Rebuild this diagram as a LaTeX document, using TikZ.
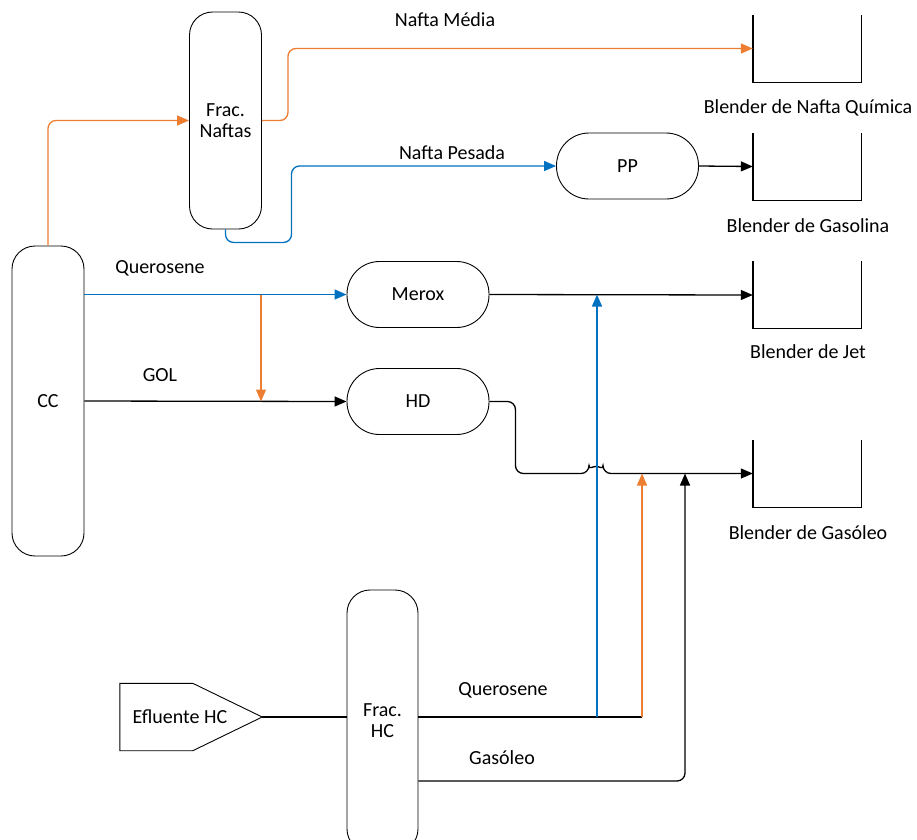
\documentclass[tikz,border=0pt]{standalone}
\usepackage{fontspec}
\setmainfont{Carlito}
\usetikzlibrary{arrows.meta}
\definecolor{flowor}{HTML}{ED7D31}
\definecolor{flowbl}{HTML}{0070C0}
\begin{document}
\begin{tikzpicture}[x=1pt,y=-1pt,
  font=\fontsize{20}{21}\selectfont,
  column/.style={draw, line width=0.9pt, rounded corners=23pt, minimum width=72pt,
    inner sep=0pt, align=center},
  unit/.style={draw, line width=0.9pt, rounded corners=32.5pt, minimum width=142pt,
    minimum height=66pt, inner sep=0pt},
  tank/.style={minimum width=108pt, minimum height=67pt, inner sep=0pt},
  tankline/.style={line width=1.4pt},
  pipe/.style={line width=1.3pt, rounded corners=8pt},
  flow/.style={pipe, -{Triangle[length=12pt,width=10pt]}},
  tag/.style={inner sep=0pt}
]
\useasboundingbox (0,0) rectangle (917,839);
\clip (0,0) rectangle (917,839);

% process units
\node[column, minimum height=217pt] (fn) at (225.5,120.5) {Frac.\\Naftas};
\node[column, minimum height=310pt] (cc) at (48,401) {CC};
\node[column, minimum height=262pt, minimum width=71pt] (fhc) at (382.5,721) {Frac.\\HC};
\node[unit] (pp) at (627.5,166) {PP};
\node[unit] (mx) at (418,294.5) {Merox};
\node[unit] (hd) at (418,401.5) {HD};

% feed
\node[tag, minimum width=142pt, minimum height=67pt] (ef) at (191,717) {};
\draw[line width=0.9pt] (ef.north west) -- ([xshift=73pt]ef.north west) -- (ef.east)
  -- ([xshift=73pt]ef.south west) -- (ef.south west) -- cycle;
\node[tag] (eft) at (180,717) {Efluente HC};

% blenders
\node[tank] (bq) at (807,48.5) {};
\node[tank] (bg) at (807,166.5) {};
\node[tank] (bj) at (807,295) {};
\node[tank] (bgo) at (807,473.5) {};
\foreach \b in {bq,bg,bj,bgo}
  \draw[tankline] (\b.north west) |- (\b.south east) -- (\b.north east);
\node[tag] (lbq) at (808,108) {Blender de Nafta Química};
\node[tag] (lbg) at (808,226) {Blender de Gasolina};
\node[tag] (lbj) at (808,352) {Blender de Jet};
\node[tag] (lbgo) at (808,533) {Blender de Gasóleo};

% stream labels
\node[tag] (lnm) at (445,20) {Nafta Média};
\node[tag] (lnp) at (452,153) {Nafta Pesada};
\node[tag] (lq1) at (160,268) {Querosene};
\node[tag] (lgol) at (160,375) {GOL};
\node[tag] (lq2) at (503,690) {Querosene};
\node[tag] (lgs) at (502,758) {Gasóleo};

% naphtha streams
\draw[flow, flowor] (cc.north) |- (fn.west);
\draw[flow, flowor] (fn.east) -- ++(26,0) |- (bq.west);
\draw[flow, flowbl] (fn.south) -- ++(0,13) -- ++(66,0) |- (pp.west);
\draw[flow] (pp.east) -- (bg.west);

% kerosene and gas oil from CC
\coordinate (kb) at (261,294.5);
\draw[flow, flowbl] (cc.east |- mx.west) -- (mx.west);
\draw[flow] (cc.east) -- (hd.west);
\draw[flow, flowor] (kb) -- (kb |- hd.west);
\draw[flow] (mx.east) -- (bj.west);

% HD product to gas oil blender, jumping the kerosene riser
\coordinate (hj) at (589,473.5);
\draw[flow] (hd.east) -- ++(26,0) |- (hj) arc[start angle=180, end angle=0, radius=7pt]
  -- (bgo.west);

% hydrocracker fractionation
\coordinate (qj) at (597,717);
\coordinate (qo) at (642,717);
\coordinate (gc) at (685,781);
\draw[pipe] (ef.east) -- (fhc.west |- ef.east);
\draw[pipe] (fhc.east |- qj) -- (qo);
\draw[flow, flowbl] (qj) -- (qj |- mx.east);
\draw[flow, flowor] (qo) -- (qo |- bgo.west);
\draw[flow] (fhc.east |- gc) -- (gc) -- (gc |- bgo.west);
\end{tikzpicture}
\end{document}
